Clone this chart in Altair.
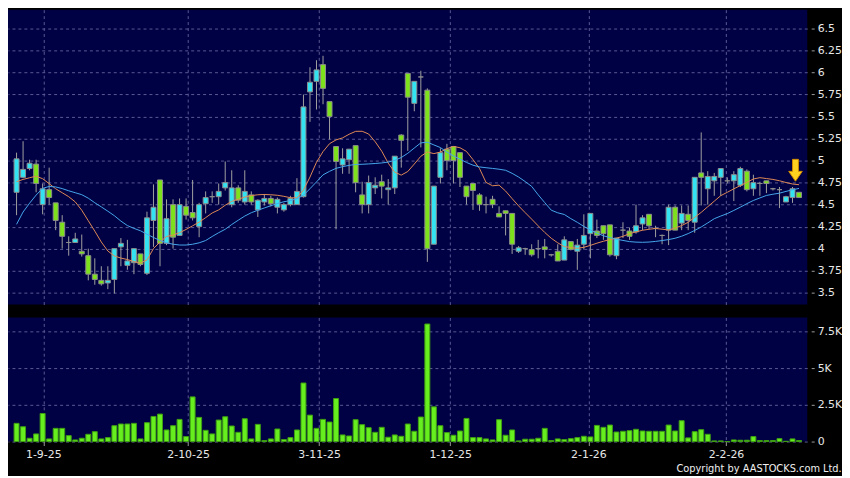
import altair as alt
import pandas as pd

# ---- data (one value per trading day) ----
opens = [4.64,4.81,4.91,4.96,4.50,4.67,4.52,4.30,4.07,4.07,
         3.97,3.92,3.71,3.64,3.61,3.65,4.02,3.81,3.84,3.94,
         3.72,4.32,4.78,4.06,4.50,4.15,4.48,4.41,4.25,4.51,
         4.59,4.59,4.69,4.50,4.69,4.53,4.61,4.44,4.53,4.57,
         4.47,4.44,4.50,4.50,4.59,5.78,5.90,6.09,5.67,5.16,
         4.95,5.01,5.17,4.61,4.50,4.69,4.76,4.67,4.69,5.29,
         5.99,5.65,5.95,5.80,4.05,4.81,5.13,5.16,5.09,4.71,
         4.74,4.61,4.50,4.56,4.40,4.43,4.40,3.97,4.00,3.99,
         4.00,4.02,3.93,3.97,3.87,4.08,3.97,4.05,4.17,4.20,
         4.26,4.27,3.92,4.21,4.20,4.19,4.28,4.39,4.23,4.15,
         4.21,4.47,4.29,4.39,4.30,4.86,4.68,4.77,4.81,4.77,
         4.77,4.72,4.88,4.68,4.74,4.77,4.68,4.67,4.53,4.58,4.64]
highs = [5.09,5.22,5.01,5.01,4.74,4.92,4.52,4.38,4.14,4.18,
         4.16,4.00,3.89,3.80,3.80,4.00,4.12,4.10,4.00,3.94,
         4.42,4.73,4.78,4.56,4.56,4.57,4.57,4.78,4.52,4.65,
         4.65,4.74,4.99,4.89,4.72,4.89,4.65,4.56,4.62,4.60,
         4.58,4.52,4.60,4.80,5.75,6.06,6.14,6.19,5.67,5.16,
         5.14,5.13,5.17,4.76,4.83,4.81,4.84,4.79,5.05,5.30,
         5.99,5.90,6.02,5.82,4.71,5.14,5.19,5.16,5.09,4.71,
         4.74,4.63,4.59,4.60,4.48,4.43,4.40,4.03,4.01,4.05,
         4.10,4.11,3.94,4.05,4.14,4.08,4.11,4.39,4.40,4.33,
         4.26,4.27,4.12,4.30,4.24,4.50,4.38,4.39,4.26,4.16,
         4.50,4.49,4.49,4.49,4.81,5.32,4.88,4.86,4.91,4.81,
         4.88,4.93,4.90,4.84,4.76,4.77,4.69,4.70,4.60,4.70,4.64]
lows = [4.38,4.80,4.89,4.64,4.39,4.50,4.21,4.00,3.92,4.07,
        3.91,3.64,3.59,3.58,3.54,3.49,3.80,3.76,3.71,3.80,
        3.70,4.02,3.80,4.04,4.00,4.15,4.33,4.32,4.13,4.40,
        4.52,4.50,4.66,4.47,4.52,4.50,4.50,4.36,4.49,4.48,
        4.40,4.42,4.48,4.50,4.58,5.44,5.58,5.64,5.24,4.22,
        4.85,4.85,4.64,4.40,4.40,4.62,4.57,4.50,4.62,4.92,
        5.11,5.56,5.15,3.85,4.05,4.74,4.89,4.74,4.70,4.50,
        4.44,4.43,4.40,4.46,4.36,4.15,3.94,3.95,3.93,3.91,
        3.89,3.89,3.91,3.86,3.87,3.98,3.76,3.99,3.89,4.12,
        4.10,3.91,3.88,4.12,4.10,4.17,4.21,4.22,4.13,4.05,
        4.04,4.21,4.21,4.21,4.18,4.49,4.50,4.60,4.60,4.74,
        4.54,4.70,4.65,4.60,4.60,4.63,4.66,4.46,4.53,4.52,4.58]
closes = [5.02,4.90,4.97,4.74,4.68,4.58,4.32,4.14,4.07,4.11,
          3.94,3.71,3.65,3.60,3.64,4.00,4.06,3.86,4.00,3.82,
          4.35,4.47,4.06,4.34,4.13,4.50,4.38,4.35,4.50,4.58,
          4.59,4.65,4.75,4.69,4.55,4.65,4.53,4.55,4.57,4.51,
          4.56,4.50,4.57,4.65,5.61,5.89,6.03,5.82,5.50,4.99,
          5.02,5.13,4.75,4.50,4.75,4.72,4.71,4.69,5.05,5.23,
          5.72,5.90,5.95,4.00,4.71,5.09,5.00,5.00,4.81,4.59,
          4.66,4.50,4.50,4.50,4.36,4.40,4.05,4.01,4.00,3.93,
          4.00,3.99,3.93,3.86,4.10,3.99,4.04,4.15,4.40,4.15,
          4.17,3.93,4.12,4.21,4.14,4.26,4.35,4.26,4.23,4.15,
          4.47,4.21,4.40,4.32,4.81,4.81,4.82,4.82,4.91,4.77,
          4.84,4.91,4.67,4.75,4.74,4.74,4.68,4.67,4.59,4.68,4.58]
volumes = [1240,1010,225,520,1910,180,900,900,405,110,
           225,495,675,180,270,1080,1195,1195,1240,180,
           1285,1710,1870,790,1080,1510,340,3040,1645,765,
           520,1465,1690,1060,630,1555,180,1170,70,180,
           855,135,270,790,3985,1800,900,1510,1330,2930,
           450,380,1490,1150,945,630,970,295,450,360,
           1195,700,1670,8000,2365,1080,610,430,720,1575,
           270,270,180,110,1490,430,790,45,160,160,
           225,900,70,180,135,200,270,360,315,1100,
           970,1125,650,700,745,835,720,700,700,700,
           1125,720,1420,250,675,810,495,45,45,0,
           110,90,90,340,70,70,70,200,20,180,70]
ma_short = [4.761,4.786,4.805,4.823,4.794,4.738,4.680,4.635,4.590,4.531,
            4.436,4.317,4.199,4.075,3.973,3.917,3.893,3.876,3.854,3.836,
            3.871,4.001,4.075,4.138,4.154,4.181,4.218,4.259,4.301,4.352,
            4.405,4.440,4.493,4.537,4.561,4.586,4.602,4.612,4.615,4.612,
            4.606,4.594,4.578,4.577,4.665,4.813,4.981,5.102,5.192,5.235,
            5.258,5.299,5.332,5.333,5.302,5.214,5.107,4.971,4.868,4.835,
            4.876,4.961,5.049,5.098,5.079,5.097,5.135,5.161,5.146,5.104,
            5.011,4.910,4.752,4.714,4.721,4.654,4.568,4.485,4.409,4.335,
            4.259,4.184,4.118,4.066,4.023,4.012,4.004,4.015,4.037,4.062,
            4.084,4.103,4.119,4.140,4.170,4.190,4.209,4.220,4.229,4.221,
            4.212,4.233,4.262,4.299,4.356,4.412,4.476,4.539,4.602,4.640,
            4.679,4.716,4.753,4.791,4.806,4.796,4.786,4.771,4.751,4.734,4.726]
ma_long = [4.276,4.416,4.516,4.608,4.685,4.706,4.701,4.682,4.657,4.635,
           4.613,4.573,4.521,4.474,4.425,4.374,4.313,4.262,4.230,4.203,
           4.164,4.127,4.092,4.067,4.050,4.041,4.041,4.050,4.066,4.092,
           4.138,4.181,4.220,4.274,4.323,4.370,4.408,4.436,4.462,4.487,
           4.512,4.533,4.546,4.568,4.606,4.681,4.758,4.838,4.878,4.912,
           4.931,4.946,4.956,4.958,4.962,4.967,4.973,4.983,5.003,5.035,
           5.083,5.143,5.201,5.209,5.178,5.148,5.097,5.054,5.016,4.979,
           4.948,4.928,4.919,4.911,4.902,4.890,4.855,4.813,4.762,4.707,
           4.611,4.523,4.437,4.407,4.388,4.341,4.299,4.252,4.212,4.177,
           4.146,4.126,4.107,4.093,4.080,4.074,4.072,4.075,4.082,4.092,
           4.103,4.118,4.141,4.171,4.207,4.246,4.292,4.340,4.370,4.398,
           4.434,4.471,4.511,4.547,4.576,4.604,4.618,4.630,4.650,4.668,4.684]

price_ticks = [3.5, 3.75, 4.0, 4.25, 4.5, 4.75, 5.0, 5.25, 5.5, 5.75, 6.0, 6.25, 6.5]
volume_ticks = [0, 2500, 5000, 7500]
date_positions = [4.1, 26.3, 46.4, 66.5, 87.7, 108.8]
date_labels = ["1-9-25", "2-10-25", "3-11-25", "1-12-25", "2-1-26", "2-2-26"]
arrow_day = [119]
arrow_price = [4.89]

# ---- build chart ----
n = len(opens)
df = pd.DataFrame({"i": list(range(n)), "o": opens, "h": highs, "l": lows,
                   "c": closes, "v": volumes, "ma1": ma_short, "ma2": ma_long})
arrow_df = pd.DataFrame({"i": arrow_day, "p": arrow_price})

PLOT_BG = "#000044"
CYAN = "#33E3F2"
GREEN = "#7DE21C"
EDGE = "#8C8C8C"
WICK = "#A0A0A0"
GRID = "#5A5A94"
ORANGE = "#E08A55"
BLUE = "#46A6EA"
VOL = "#66EE1E"
W = 805

xscale = alt.Scale(domain=[-0.55, 120.5], nice=False, zero=False)
yscale = alt.Scale(domain=[3.365, 6.714], nice=False, zero=False)

x_top = alt.X("i:Q", scale=xscale,
              axis=alt.Axis(values=date_positions, labels=False, ticks=False,
                            domain=False, grid=True, title=None))
price_axis = alt.Axis(orient="right", values=price_ticks, format=".2~f", title=None,
                      grid=True, offset=4, tickSize=3, labelPadding=3)

label_expr = "''"
for pos, txt in reversed(list(zip(date_positions, date_labels))):
    label_expr = f"abs(datum.value - {pos}) < 0.5 ? '{txt}' : ({label_expr})"

base = alt.Chart(df).transform_calculate(
    lo="min(datum.o, datum.c)",
    hi="max(datum.o, datum.c)",
    dir="datum.c > datum.o ? 'up' : (datum.c < datum.o ? 'down' : 'flat')",
)

wicks = base.mark_rule(color=WICK, strokeWidth=1).encode(
    x=x_top, y=alt.Y("l:Q", scale=yscale, axis=price_axis), y2="h:Q")
bodies = base.mark_bar(size=5, stroke=EDGE, strokeWidth=1).encode(
    x=x_top, y=alt.Y("lo:Q", scale=yscale, axis=price_axis), y2="hi:Q",
    color=alt.Color("dir:N", scale=alt.Scale(domain=["up", "down", "flat"],
                                             range=[CYAN, GREEN, EDGE]), legend=None))
line1 = alt.Chart(df).mark_line(color=ORANGE, strokeWidth=1).encode(
    x=x_top, y=alt.Y("ma1:Q", scale=yscale, axis=price_axis))
line2 = alt.Chart(df).mark_line(color=BLUE, strokeWidth=1).encode(
    x=x_top, y=alt.Y("ma2:Q", scale=yscale, axis=price_axis))
arrow = alt.Chart(arrow_df).mark_point(
    shape="M-0.27,-1 L0.27,-1 L0.27,0.1 L0.62,0.1 L0,1 L-0.62,0.1 L-0.27,0.1 Z",
    size=484, filled=True, fill="#FFD21F", stroke="#D08A00", strokeWidth=1,
    opacity=1, xOffset=3).encode(
    x=x_top, y=alt.Y("p:Q", scale=yscale, axis=price_axis))

top = alt.layer(wicks, bodies, line1, line2, arrow).properties(width=W, height=297)

bottom = alt.Chart(df).mark_bar(size=5, fill=VOL, stroke="#3E9E12", strokeWidth=1).encode(
    x=alt.X("i:Q", scale=xscale,
            axis=alt.Axis(values=date_positions, labelExpr=label_expr, grid=True,
                          ticks=True, tickSize=4, domain=False, title=None,
                          labelPadding=3, labelOverlap=False, labelFlush=False)),
    y=alt.Y("v:Q", scale=alt.Scale(domain=[0, 8446], nice=False, zero=True),
            axis=alt.Axis(orient="right", values=volume_ticks, title=None, grid=True,
                          offset=4, tickSize=3, labelPadding=3,
                          labelExpr="datum.value == 0 ? '0' : format(datum.value / 1000, '~g') + 'K'")),
).properties(width=W, height=125)

chart = alt.vconcat(top, bottom, spacing=13).properties(
    padding={"left": 0, "top": 0, "right": 0, "bottom": 0},
    title=alt.TitleParams("Copyright by AASTOCKS.com Ltd.", orient="bottom", anchor="end",
                          frame="bounds", fontSize=11, font="DejaVu Sans Condensed, Liberation Sans",
                          fontWeight="normal", color="#F0F0F0", offset=4),
).configure(background="#000000").configure_view(
    fill=PLOT_BG, stroke=None
).configure_axis(
    labelColor="#E8E8E8", labelFont="DejaVu Sans", labelFontSize=11,
    tickColor="#9A9A9A", gridColor=GRID, gridDash=[3, 3], gridWidth=1, domain=False
)

chart.save("out.html", embed_options={"renderer": "svg", "actions": False})
